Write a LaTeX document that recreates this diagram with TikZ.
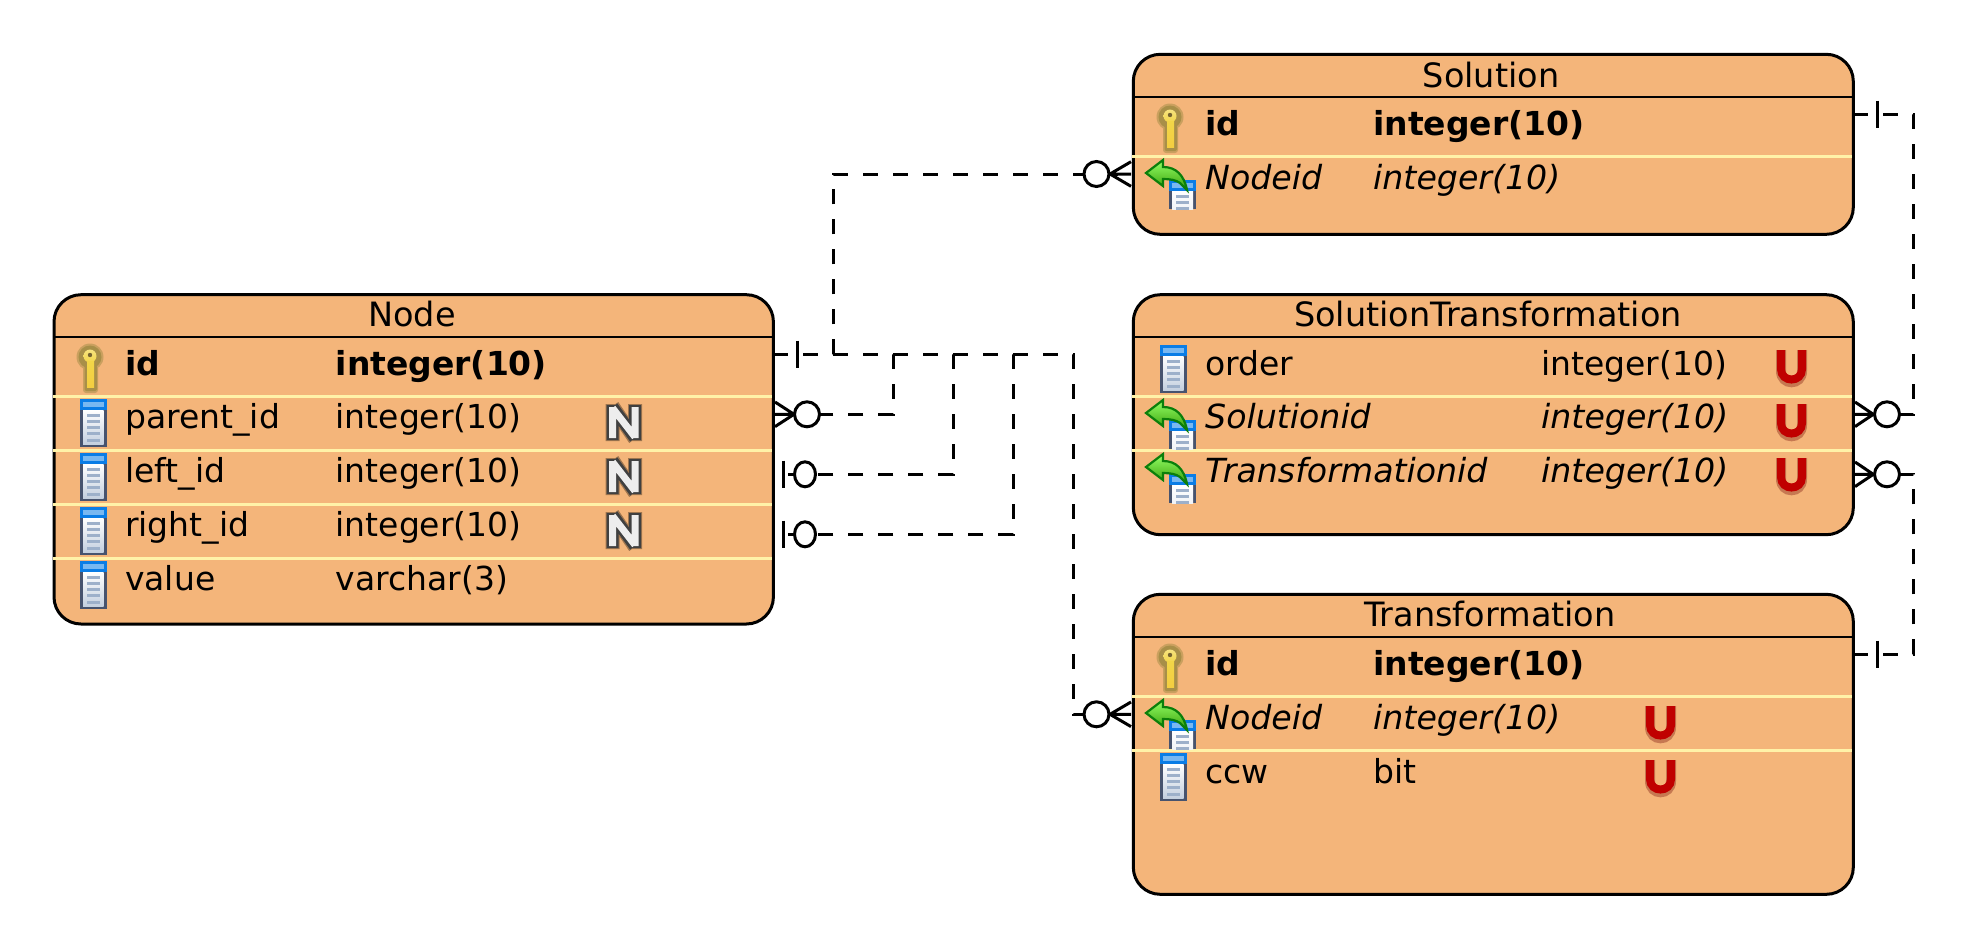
\documentclass[tikz,border=0pt]{standalone}
\usepackage{fontspec}
\setmainfont{DejaVu Sans}
\usetikzlibrary{shapes.geometric}
\definecolor{boxfill}{HTML}{F4B57A}
\definecolor{rowcol}{HTML}{FFF2A8}
\definecolor{keyedge}{HTML}{A88F48}
\definecolor{keygold}{HTML}{F2D648}
\definecolor{colframe}{HTML}{47536E}
\definecolor{colblue}{HTML}{0A7DE6}
\definecolor{colrule}{HTML}{9DB0CA}
\definecolor{arrowdark}{HTML}{0B7F0B}
\definecolor{ured}{HTML}{C00000}
\tikzset{
  entity/.style={draw,fill=boxfill,line width=3pt,rounded corners=27pt,anchor=north west,inner sep=0pt,outer sep=0pt},
  lbl/.style={anchor=base west,inner sep=0pt,font=\fontsize{33}{40}\selectfont},
  lblb/.style={lbl,font=\fontsize{33}{40}\selectfont\bfseries},
  lbli/.style={lbl,font=\fontsize{33.2}{40}\selectfont\itshape},
  ttl/.style={lbl,anchor=base,font=\fontsize{33.5}{40}\selectfont},
  rowline/.style={rowcol,line width=3.2pt},
  hdline/.style={black,line width=2.2pt},
  rel/.style={line width=3pt,dash pattern=on 15pt off 15pt},
  card/.style={line width=3pt},
  manyc/.style={circle,draw,fill=white,line width=3pt,minimum size=25pt,inner sep=0pt,outer sep=0pt},
  onec/.style={ellipse,draw,fill=white,line width=3pt,minimum width=21pt,minimum height=25pt,inner sep=0pt,outer sep=0pt},
  pics/keyicon/.style={code={
    \fill[keyedge!55!boxfill] (13,12) circle (13.5);
    \fill[keyedge!55!boxfill,rounded corners=3pt] (6,20) rectangle (21,48);
    \fill[keyedge] (13,12) circle (11.5);
    \fill[keyedge,rounded corners=2pt] (7.5,20) rectangle (20,46);
    \shade[top color=keygold!70!white,bottom color=keygold] (13,11) circle (6.5);
    \shade[top color=keygold,bottom color=keygold!90!orange] (10,16) rectangle (17,42);
    \fill[keyedge!70!black] (13,10) circle (2.2);
  }},
  pics/colicon/.style={code={
    \fill[colframe] (0,0) rectangle (26.5,48);
    \shade[top color=white,bottom color=colrule!60!white] (3,11) rectangle (23.5,45);
    \fill[colblue] (0,0) rectangle (26.5,11);
    \fill[colblue!55!white] (3,3) rectangle (23.5,8);
    \foreach \yy in {15,21,27,33,40} \fill[colrule] (7,\yy) rectangle (20,\yy+2.6);
  }},
  pics/fkicon/.style={code={
    \fill[colframe] (23,21) rectangle (50,50);
    \shade[top color=white,bottom color=white!85!colrule] (26,32) rectangle (47,50);
    \fill[colblue] (23,21) rectangle (50,32);
    \fill[colblue!55!white] (26,24) rectangle (47,29);
    \foreach \yy in {36,42,48} \fill[colrule] (30,\yy) rectangle (43,\yy+2.5);
    \shade[top color=green!60!lime!60!white,bottom color=arrowdark!75!lime,draw=arrowdark,line width=2.2pt]
      (0,14) -- (17,1) -- (17,8) .. controls (30,8) and (38,16) .. (41,31) -- (34,24)
      .. controls (30,21) and (24,20) .. (17,20) -- (17,27) -- cycle;
  }},
  pics/nullicon/.style={code={
    \draw[boxfill!65!black,line width=14pt,line join=miter] (6.5,2) -- (6.5,39) (6.5,4) -- (29,37) (29,2) -- (29,39);
    \draw[black!75,line width=12pt,line join=miter] (6.5,3) -- (6.5,38) (6.5,5) -- (29,36) (29,3) -- (29,38);
    \draw[white!93!black,line width=7pt,line join=miter] (6.5,5) -- (6.5,36) (6.5,6) -- (29,35) (29,5) -- (29,36);
  }},
  pics/uniqueicon/.style={code={
    \draw[ured!22!boxfill!85!black,line width=10pt] (4,2) -- (4,23) .. controls (4,38) and (25,38) .. (25,23) -- (25,2);
    \draw[ured,line width=8pt] (4,2) -- (4,21) .. controls (4,35) and (25,35) .. (25,21) -- (25,2);
  }},
}
\begin{document}
\begin{tikzpicture}[x=1pt,y=-1pt]
\useasboundingbox (0,0) rectangle (1965,946);

\node[entity,minimum width=719.4pt,minimum height=329.3pt] (nodebox) at (54,294.7) {};
\draw[hdline] (54,336.7) -- (773.3,336.7);
\draw[rowline] (53,396.3) -- (771.8,396.3);
\draw[rowline] (53,450.3) -- (771.8,450.3);
\draw[rowline] (53,504.3) -- (771.8,504.3);
\draw[rowline] (53,558.3) -- (771.8,558.3);
\node[ttl] (nodettl) at (412,326.7) {Node};
\node[lblb] (nodeidn) at (125,375) {id};
\node[lblb] (nodeidt) at (335.5,375) {integer(10)};
\node[lbl] (parentn) at (125,428.7) {parent\_id};
\node[lbl] (parentt) at (335.5,428.7) {integer(10)};
\node[lbl] (leftn) at (125,482.7) {left\_id};
\node[lbl] (leftt) at (335.5,482.7) {integer(10)};
\node[lbl] (rightn) at (125,536.7) {right\_id};
\node[lbl] (rightt) at (335.5,536.7) {integer(10)};
\node[lbl] (valuen) at (125,590.7) {value};
\node[lbl] (valuet) at (335.5,590.7) {varchar(3)};
\pic at (77,345) {keyicon};
\pic at (80,399) {colicon};
\pic at (80,453) {colicon};
\pic at (80,507) {colicon};
\pic at (80,561) {colicon};
\pic at (606,402) {nullicon};
\pic at (606,456) {nullicon};
\pic at (606,510) {nullicon};

\node[entity,minimum width=720pt,minimum height=180pt] (solbox) at (1133.3,54.3) {};
\draw[hdline] (1133.3,96.7) -- (1853.3,96.7);
\draw[rowline] (1132.3,156.7) -- (1851.8,156.7);
\node[ttl] (solttl) at (1491,87.3) {Solution};
\node[lblb] (solidn) at (1205,135) {id};
\node[lblb] (solidt) at (1373,135) {integer(10)};
\node[lbli] (solfkn) at (1205,189) {Nodeid};
\node[lbli] (solfkt) at (1373,189) {integer(10)};
\pic at (1157,105) {keyicon};
\pic at (1146,159) {fkicon};

\node[entity,minimum width=720pt,minimum height=240pt] (stbox) at (1133.3,294.7) {};
\draw[hdline] (1133.3,336.7) -- (1853.3,336.7);
\draw[rowline] (1132.3,396.3) -- (1851.8,396.3);
\draw[rowline] (1132.3,450.3) -- (1851.8,450.3);
\node[ttl] (stttl) at (1488,326.7) {SolutionTransformation};
\node[lbl] (ordern) at (1205,375) {order};
\node[lbl] (ordert) at (1541,375) {integer(10)};
\node[lbli] (stsoln) at (1205,428.7) {Solutionid};
\node[lbli] (stsolt) at (1541,428.7) {integer(10)};
\node[lbli] (sttrn) at (1205,482.7) {Transformationid};
\node[lbli] (sttrt) at (1541,482.7) {integer(10)};
\pic at (1160,345) {colicon};
\pic at (1146,399) {fkicon};
\pic at (1146,453) {fkicon};
\pic at (1777,348) {uniqueicon};
\pic at (1777,402) {uniqueicon};
\pic at (1777,456) {uniqueicon};

\node[entity,minimum width=720pt,minimum height=300pt] (trbox) at (1133.3,594.3) {};
\draw[hdline] (1133.3,637) -- (1853.3,637);
\draw[rowline] (1132.3,696.3) -- (1851.8,696.3);
\draw[rowline] (1132.3,750.3) -- (1851.8,750.3);
\node[ttl] (trttl) at (1490,626.7) {Transformation};
\node[lblb] (tridn) at (1205,675) {id};
\node[lblb] (tridt) at (1373,675) {integer(10)};
\node[lbli] (trfkn) at (1205,729) {Nodeid};
\node[lbli] (trfkt) at (1373,729) {integer(10)};
\node[lbl] (ccwn) at (1205,783) {ccw};
\node[lbl] (ccwt) at (1373,783) {bit};
\pic at (1157,645) {keyicon};
\pic at (1146,699) {fkicon};
\pic at (1160,753) {colicon};
\pic at (1646,704) {uniqueicon};
\pic at (1646,758) {uniqueicon};

\coordinate (nodeidr) at (773.3,354.3);
\coordinate (parentr) at (773.3,414.3);
\coordinate (leftr) at (773.3,474.3);
\coordinate (rightr) at (773.3,534.3);
\coordinate (solfkl) at (1131,174);
\coordinate (trfkl) at (1131,714.3);
\coordinate (solidr) at (1853.3,114.2);
\coordinate (tridr) at (1853.3,654.3);
\coordinate (stsolr) at (1855,414.3);
\coordinate (sttrr) at (1855,474.3);

\draw[rel] (nodeidr) -- ++(60,0) |- (solfkl);
\draw[rel] (nodeidr) -- ++(120,0) |- (parentr);
\draw[rel] (nodeidr) -- ++(180,0) |- (leftr);
\draw[rel] (nodeidr) -- ++(240,0) |- (rightr);
\draw[rel] (nodeidr) -- ++(300,0) |- (trfkl);
\draw[rel] (solidr) -- ++(60,0) |- (stsolr);
\draw[rel] (tridr) -- ++(60,0) |- (sttrr);

\draw[card] (797.3,340.5) -- (797.3,368);
\draw[card] (1877.3,100.5) -- (1877.3,128);
\draw[card] (1877.3,640.5) -- (1877.3,668);
\draw[card] (783.3,460.5) -- (783.3,488);
\draw[card] (783.3,520.5) -- (783.3,548);

\draw[card] (794,414.3) -- (775,402) (794,414.3) -- (775,414.3) (794,414.3) -- (775,426.6);
\draw[card] (1873.3,414.3) -- (1855,402) (1873.3,414.3) -- (1855,414.3) (1873.3,414.3) -- (1855,426.6);
\draw[card] (1873.3,474.3) -- (1855,462) (1873.3,474.3) -- (1855,474.3) (1873.3,474.3) -- (1855,486.6);
\draw[card] (1110,174) -- (solfkl) (1110,174) -- (1131,161.7) (1110,174) -- (1131,186.3);
\draw[card] (1110,714.3) -- (trfkl) (1110,714.3) -- (1131,702) (1110,714.3) -- (1131,726.6);

\node[manyc] (parentc) at (807,414.3) {};
\node[onec] (leftc) at (805,474.3) {};
\node[onec] (rightc) at (805,534.3) {};
\node[manyc] (solc) at (1096.5,174) {};
\node[manyc] (trc) at (1096.5,714.3) {};
\node[manyc] (stsolc) at (1887,414.3) {};
\node[manyc] (sttrc) at (1887,474.3) {};
\end{tikzpicture}
\end{document}
